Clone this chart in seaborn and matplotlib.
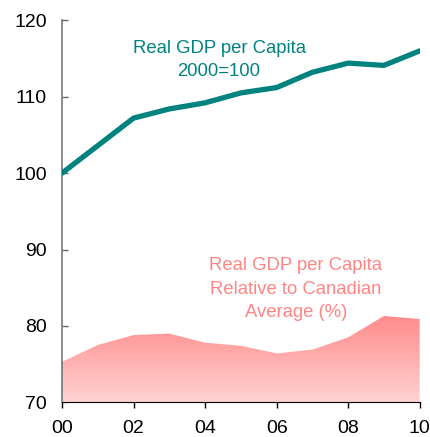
import numpy as np
import pandas as pd
import seaborn as sns
import matplotlib.pyplot as plt
from matplotlib.colors import LinearSegmentedColormap

# values
years = [2000, 2001, 2002, 2003, 2004, 2005, 2006, 2007, 2008, 2009, 2010]
gdp_index = [100.0, 103.6, 107.2, 108.4, 109.2, 110.5, 111.2, 113.2, 114.4, 114.1, 116.0]
gdp_relative = [75.3, 77.5, 78.8, 79.0, 77.8, 77.4, 76.4, 76.9, 78.5, 81.3, 80.9]
tick_years = [2000, 2002, 2004, 2006, 2008, 2010]
tick_labels = ["00", "02", "04", "06", "08", "10"]

df = pd.DataFrame({"year": years, "index": gdp_index, "relative": gdp_relative})

sns.set_style("ticks")
plt.rcParams['font.family'] = ['Liberation Sans', 'DejaVu Sans']

teal = "#00837f"
pink = "#ff8585"

fig = plt.figure(figsize=(4.31, 4.37), dpi=100)
ax = fig.add_axes([0.1439, 0.0794, 0.8299, 0.8741])

# pink area with vertical gradient
poly = ax.fill_between(df["year"], 70, df["relative"], color="none", lw=0)
grad = np.linspace(0, 1, 256).reshape(-1, 1)
cmap = LinearSegmentedColormap.from_list("pk", ["#ffd2d2", "#ff8a8a"])
img = ax.imshow(grad, cmap=cmap, aspect="auto", origin="lower",
                extent=[2000, 2010, 70, max(gdp_relative)], zorder=1)
img.set_clip_path(poly.get_paths()[0], transform=ax.transData)

sns.lineplot(data=df, x="year", y="index", color=teal, lw=3.8, ax=ax, zorder=3)

ax.set_xlim(2000, 2010)
ax.set_ylim(70, 120)
ax.set_xticks(tick_years)
ax.set_xticklabels(tick_labels)
ax.set_yticks([70, 80, 90, 100, 110, 120])
ax.set_xlabel("")
ax.set_ylabel("")
ax.tick_params(axis="x", labelsize=14, length=4, width=1, direction="out",
               color="black", labelcolor="black", pad=9)
ax.tick_params(axis="y", labelsize=14, length=4, width=1, direction="in",
               color="#666666", labelcolor="black", pad=11)
for s in ["top", "right"]:
    ax.spines[s].set_visible(False)
ax.spines["left"].set_color("#777777")
ax.spines["left"].set_linewidth(1.2)
ax.spines["bottom"].set_color("black")

ax.text(2004.39, 114.8, "Real GDP per Capita\n2000=100", color=teal, fontsize=13.3,
        ha="center", va="center", linespacing=1.5)
ax.text(2006.54, 84.8, "Real GDP per Capita\nRelative to Canadian\nAverage (%)", color=pink,
        fontsize=13.3, ha="center", va="center", linespacing=1.5)

fig.savefig("out.png", dpi=100)
